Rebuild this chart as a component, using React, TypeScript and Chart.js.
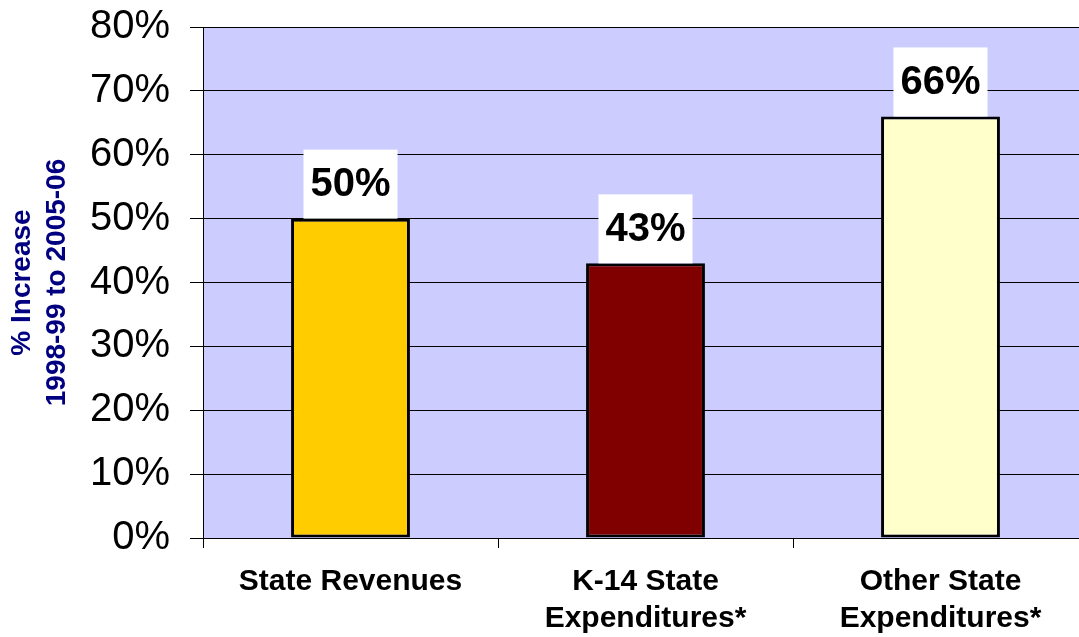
import React, { useEffect, useRef } from "react";
import { Chart, registerables } from "chart.js";

Chart.register(...registerables);

const categories: (string | string[])[] = [
  "State Revenues",
  ["K-14 State", "Expenditures*"],
  ["Other State", "Expenditures*"],
];
const values: number[] = [50, 43, 66];
const barColors: string[] = ["#FFCC00", "#800000", "#FFFFCC"];
const yTitle: string[] = ["% Increase", "1998-99 to 2005-06"];
const yMin = 0;
const yMax = 80;
const yStep = 10;

const FONT = "'Liberation Sans', Arial, Helvetica, sans-serif";

const CANVAS_W = 1100;
const CANVAS_H = 637;

const plotBg = {
  id: "plotBg",
  beforeDraw(chart: any) {
    const { ctx, chartArea } = chart;
    ctx.save();
    ctx.fillStyle = "#CCCCFF";
    ctx.fillRect(chartArea.left, chartArea.top, chartArea.right - chartArea.left, chartArea.bottom - chartArea.top);
    ctx.restore();
  },
};

const valueBoxes = {
  id: "valueBoxes",
  afterDatasetsDraw(chart: any) {
    const { ctx } = chart;
    const meta = chart.getDatasetMeta(0);
    ctx.save();
    ctx.font = `bold 40px ${FONT}`;
    meta.data.forEach((bar: any, i: number) => {
      const text = `${values[i]}%`;
      const w = ctx.measureText(text).width + 14;
      const h = 69;
      const x = bar.x - w / 2;
      const y = bar.y - h;
      ctx.fillStyle = "#FFFFFF";
      ctx.fillRect(x, y, w, h);
      ctx.fillStyle = "#000000";
      ctx.textAlign = "center";
      ctx.textBaseline = "middle";
      ctx.fillText(text, bar.x, y + h / 2 + 1);
    });
    ctx.restore();
  },
};

export default function App() {
  const ref = useRef<HTMLCanvasElement | null>(null);

  useEffect(() => {
    if (!ref.current) return;
    const chart = new Chart(ref.current, {
      type: "bar",
      data: {
        labels: categories,
        datasets: [
          {
            data: values,
            backgroundColor: barColors,
            borderColor: "#000000",
            borderWidth: 3,
            borderSkipped: false,
            barPercentage: 0.403,
            categoryPercentage: 1,
          },
        ],
      },
      options: {
        responsive: false,
        animation: false,
        devicePixelRatio: 1,
        layout: { padding: { left: 0, top: 27, right: CANVAS_W - 1088, bottom: 0 } },
        plugins: {
          legend: { display: false },
          tooltip: { enabled: false },
          title: { display: false },
        },
        scales: {
          x: {
            offset: true,
            grid: {
              display: true,
              drawOnChartArea: false,
              drawTicks: true,
              tickLength: 10,
              color: "#000000",
              offset: true,
            },
            border: { display: true, color: "#000000", width: 1 },
            ticks: {
              color: "#000000",
              font: { family: FONT, size: 30, weight: "bold", lineHeight: 1.23 },
              padding: 15,
              maxRotation: 0,
              autoSkip: false,
            },
            afterFit(scale: any) {
              scale.height = CANVAS_H - 538;
              scale.paddingLeft = 0;
              scale.paddingRight = 0;
            },
          },
          y: {
            min: yMin,
            max: yMax,
            grid: {
              color: "#000000",
              lineWidth: 1,
              tickLength: 13,
              drawTicks: true,
            },
            border: { display: true, color: "#000000", width: 1 },
            ticks: {
              stepSize: yStep,
              color: "#000000",
              font: { family: FONT, size: 40 },
              padding: 20,
              callback: (v: any) => `${v}%`,
            },
            title: {
              display: true,
              text: yTitle,
              color: "#000080",
              font: { family: FONT, size: 28, weight: "bold", lineHeight: 1.25 },
              padding: { top: 5, bottom: 0 },
            },
            afterFit(scale: any) {
              scale.width = 203;
              scale.paddingTop = 0;
              scale.paddingBottom = 0;
            },
          },
        },
      },
      plugins: [plotBg, valueBoxes],
    });
    return () => chart.destroy();
  }, []);

  return (
    <div
      style={{
        position: "fixed",
        left: 0,
        top: 0,
        width: 1079,
        height: 637,
        overflow: "hidden",
        background: "#FFFFFF",
      }}
    >
      <canvas ref={ref} width={CANVAS_W} height={CANVAS_H} style={{ display: "block" }} />
    </div>
  );
}
